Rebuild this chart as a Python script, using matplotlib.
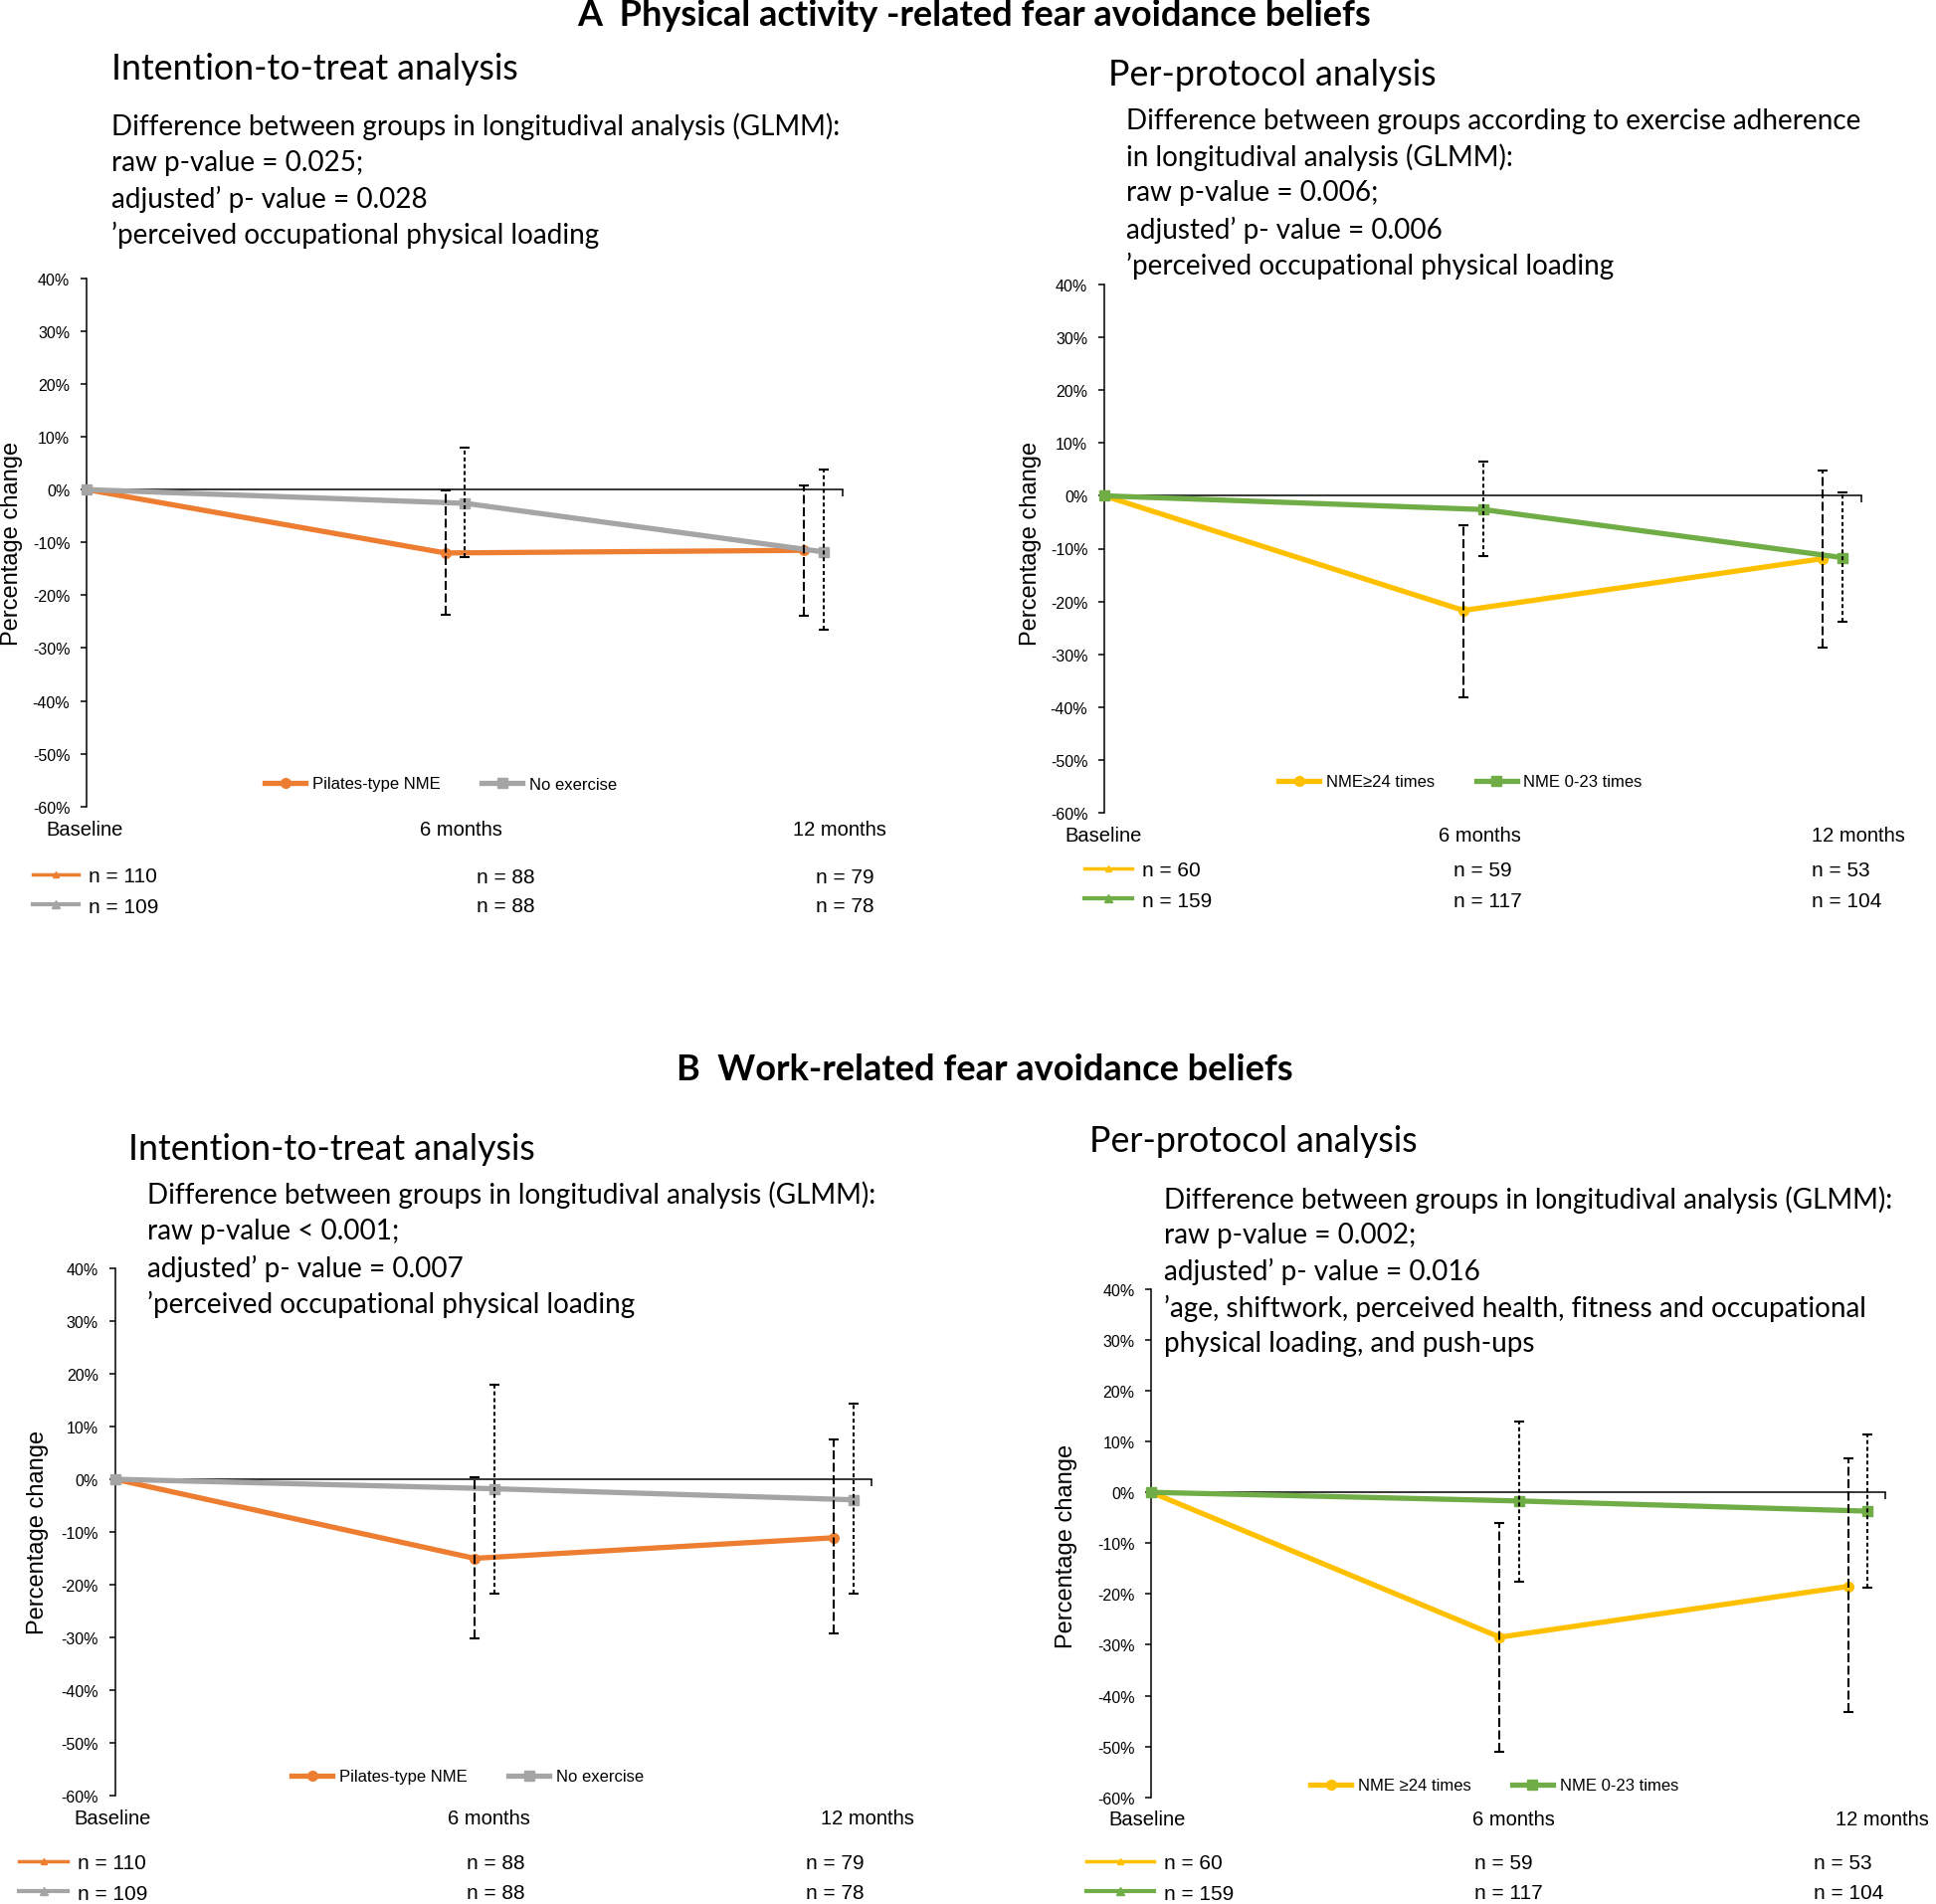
import numpy as np
import matplotlib
matplotlib.use("Agg")
import matplotlib.pyplot as plt
from matplotlib.lines import Line2D
from matplotlib.ticker import FuncFormatter

# ---------------- data ----------------
categories = ["Baseline", "6 months", "12 months"]
months = [0, 6, 12]

# Panel A, intention-to-treat
a_itt_nme = [0, -12.0, -11.5]
a_itt_nme_lo = [0, -23.7, -23.9]
a_itt_nme_hi = [0, -0.2, 0.8]
a_itt_noex = [0, -2.6, -11.8]
a_itt_noex_lo = [0, -12.8, -26.6]
a_itt_noex_hi = [0, 8.0, 3.8]
a_itt_n_nme = [110, 88, 79]
a_itt_n_noex = [109, 88, 78]

# Panel A, per-protocol
a_pp_high = [0, -21.7, -11.9]
a_pp_high_lo = [0, -38.1, -28.8]
a_pp_high_hi = [0, -5.6, 4.7]
a_pp_low = [0, -2.6, -11.7]
a_pp_low_lo = [0, -11.5, -23.8]
a_pp_low_hi = [0, 6.5, 0.7]
a_pp_n_high = [60, 59, 53]
a_pp_n_low = [159, 117, 104]

# Panel B, intention-to-treat
b_itt_nme = [0, -15.0, -11.1]
b_itt_nme_lo = [0, -30.2, -29.3]
b_itt_nme_hi = [0, 0.4, 7.5]
b_itt_noex = [0, -1.8, -3.9]
b_itt_noex_lo = [0, -21.7, -21.7]
b_itt_noex_hi = [0, 18.0, 14.4]
b_itt_n_nme = [110, 88, 79]
b_itt_n_noex = [109, 88, 78]

# Panel B, per-protocol
b_pp_high = [0, -28.5, -18.5]
b_pp_high_lo = [0, -51.0, -43.3]
b_pp_high_hi = [0, -6.0, 6.6]
b_pp_low = [0, -1.7, -3.7]
b_pp_low_lo = [0, -17.5, -18.7]
b_pp_low_hi = [0, 14.0, 11.4]
b_pp_n_high = [60, 59, 53]
b_pp_n_low = [159, 117, 104]

yticks = list(range(-60, 41, 10))

# ---------------- style ----------------
ORANGE = "#ED7D31"
GRAY = "#A5A5A5"
YELLOW = "#FFC000"
GREEN = "#70AD47"
BODY = ["Lato", "DejaVu Sans"]
SANS = ["Liberation Sans", "DejaVu Sans"]
XMAX = 12.64
DODGE = 0.33
LONG_DASH = (0, (4.3, 1.7))
SHORT_DASH = (0, (1.9, 1.4))

W, H = 1946, 1915
fig = plt.figure(figsize=(W / 100, H / 100), dpi=100)
renderer = fig.canvas.get_renderer()


def fx(px):
    return px / W


def fy(py):
    return 1 - py / H


def fit(t, width):
    w = t.get_window_extent(renderer).width
    t.set_fontsize(t.get_fontsize() * width / w)
    return t.get_fontsize()


# ---------------- titles and text ----------------
tA = fig.text(fx(979), fy(16), "A  Physical activity -related fear avoidance beliefs",
              family=BODY, fontweight="bold", fontsize=20, ha="center", va="center")
tsize = fit(tA, 798)
fig.text(fx(990), fy(1075), "B  Work-related fear avoidance beliefs",
         family=BODY, fontweight="bold", fontsize=tsize, ha="center", va="center")

s1 = fig.text(fx(112), fy(70), "Intention-to-treat analysis", family=BODY,
              fontsize=20, ha="left", va="center")
ssize = fit(s1, 411)
fig.text(fx(1114), fy(76), "Per-protocol analysis", family=BODY, fontsize=ssize,
         ha="left", va="center")
fig.text(fx(129), fy(1155), "Intention-to-treat analysis", family=BODY, fontsize=ssize,
         ha="left", va="center")
fig.text(fx(1095), fy(1148), "Per-protocol analysis", family=BODY, fontsize=ssize,
         ha="left", va="center")

body_blocks = [
    (112, [127, 164, 200, 236], [
        "Difference between groups in longitudival analysis (GLMM):",
        "raw p-value = 0.025;",
        "adjusted\u2019 p- value = 0.028",
        "\u2019perceived occupational physical loading"]),
    (1132, [122, 158, 194, 231, 267], [
        "Difference between groups according to exercise adherence",
        "in longitudival analysis (GLMM):",
        "raw p-value = 0.006;",
        "adjusted\u2019 p- value = 0.006",
        "\u2019perceived occupational physical loading"]),
    (148, [1201, 1238, 1275, 1311], [
        "Difference between groups in longitudival analysis (GLMM):",
        "raw p-value < 0.001;",
        "adjusted\u2019 p- value = 0.007",
        "\u2019perceived occupational physical loading"]),
    (1170, [1206, 1242, 1278, 1315, 1351], [
        "Difference between groups in longitudival analysis (GLMM):",
        "raw p-value = 0.002;",
        "adjusted\u2019 p- value = 0.016",
        "\u2019age, shiftwork, perceived health, fitness and occupational",
        "physical loading, and push-ups"]),
]
probe = fig.text(0, 0, body_blocks[0][2][0], family=BODY, fontsize=16)
bsize = fit(probe, 736)
probe.remove()
for x0, ys, lines in body_blocks:
    for yy, line in zip(ys, lines):
        fig.text(fx(x0), fy(yy), line, family=BODY, fontsize=bsize, ha="left", va="center")

# ---------------- panels ----------------
panels = [
    dict(box=(87, 846.6, 280.7, 811.8),
         s1=(a_itt_nme, a_itt_nme_lo, a_itt_nme_hi, ORANGE, "o", "Pilates-type NME"),
         s2=(a_itt_noex, a_itt_noex_lo, a_itt_noex_hi, GRAY, "s", "No exercise"),
         leg=(443, 789), ylab=(12, 546), cat_x=[46, 422, 797], cat_y=835,
         n_y=(882, 912), n_hx=33, n_tx=89, n_cols=[479, 820],
         n1=a_itt_n_nme, n2=a_itt_n_noex),
    dict(box=(1110, 1870.5, 287, 818),
         s1=(a_pp_high, a_pp_high_lo, a_pp_high_hi, YELLOW, "o", "NME\u226524 times"),
         s2=(a_pp_low, a_pp_low_lo, a_pp_low_hi, GREEN, "s", "NME 0-23 times"),
         leg=(1468, 787), ylab=(1036, 546), cat_x=[1070, 1446, 1821], cat_y=841,
         n_y=(876, 906), n_hx=1090, n_tx=1148, n_cols=[1461, 1821],
         n1=a_pp_n_high, n2=a_pp_n_low),
    dict(box=(115.7, 876.5, 1276, 1806),
         s1=(b_itt_nme, b_itt_nme_lo, b_itt_nme_hi, ORANGE, "o", "Pilates-type NME"),
         s2=(b_itt_noex, b_itt_noex_lo, b_itt_noex_hi, GRAY, "s", "No exercise"),
         leg=(470, 1787), ylab=(38, 1540), cat_x=[74, 450, 825], cat_y=1829,
         n_y=(1874, 1904), n_hx=19, n_tx=78, n_cols=[469, 810],
         n1=b_itt_n_nme, n2=b_itt_n_noex),
    dict(box=(1157.3, 1895, 1296.8, 1807.7),
         s1=(b_pp_high, b_pp_high_lo, b_pp_high_hi, YELLOW, "o", "NME \u226524 times"),
         s2=(b_pp_low, b_pp_low_lo, b_pp_low_hi, GREEN, "s", "NME 0-23 times"),
         leg=(1502, 1796), ylab=(1072, 1554), cat_x=[1114, 1480, 1845], cat_y=1830,
         n_y=(1874, 1904), n_hx=1092, n_tx=1170, n_cols=[1482, 1823],
         n1=b_pp_n_high, n2=b_pp_n_low),
]

m = np.array(months, dtype=float)
x_first = m
x_second = m + DODGE * (m > 0)

for p in panels:
    x0, x1, yt, yb = p["box"]
    ax = fig.add_axes([fx(x0), fy(yb), (x1 - x0) / W, (yb - yt) / H])
    ax.patch.set_visible(False)
    ax.set_xlim(0, XMAX)
    ax.set_ylim(-60, 40)
    for sp in ("top", "right"):
        ax.spines[sp].set_visible(False)
    ax.spines["bottom"].set_position(("data", 0))
    ax.spines["left"].set_linewidth(1.1)
    ax.spines["bottom"].set_linewidth(1.1)
    ax.set_xticks([XMAX])
    ax.set_xticklabels([])
    ax.tick_params(axis="x", direction="out", length=5, width=1.1)
    ax.set_yticks(yticks)
    ax.yaxis.set_major_formatter(FuncFormatter(lambda v, pos: f"{v:.0f}%"))
    ax.tick_params(axis="y", direction="out", length=4, width=1.1, pad=8, labelsize=11.5)
    for lab in ax.get_yticklabels():
        lab.set_family(SANS)

    handles = []
    for (vals, lo, hi, col, mk, lab), xs, dash in ((p["s1"], x_first, LONG_DASH),
                                                 (p["s2"], x_second, SHORT_DASH)):
        vals = np.array(vals, float)
        lo = np.array(lo, float)
        hi = np.array(hi, float)
        ln, = ax.plot(xs, vals, color=col, lw=3.8, marker=mk, ms=7, label=lab,
                      clip_on=False, zorder=3)
        handles.append(ln)
        eb = ax.errorbar(xs[1:], vals[1:], yerr=[vals[1:] - lo[1:], hi[1:] - vals[1:]],
                         fmt="none", ecolor="black", elinewidth=1.5, capsize=3.5,
                         capthick=1.5, zorder=5)
        eb.lines[2][0].set_linestyle(dash)

    fig.legend(handles=handles, labels=[h.get_label() for h in handles],
               loc="center", bbox_to_anchor=(fx(p["leg"][0]), fy(p["leg"][1])),
               ncol=2, frameon=False, prop={"family": SANS, "size": 12},
               handlelength=2.45, handletextpad=0.4, columnspacing=2.5,
               borderpad=0, borderaxespad=0)

    fig.text(fx(p["ylab"][0]), fy(p["ylab"][1]), "Percentage change", rotation=90,
             family=SANS, fontsize=17, ha="center", va="center")

    for cx, cat in zip(p["cat_x"], categories):
        fig.text(fx(cx), fy(p["cat_y"]), cat, family=SANS, fontsize=14.5,
                 ha="left", va="center")

    # n rows: keys + first column as a legend, other columns as text
    keyh = [Line2D([], [], color=p["s1"][3], lw=2.5, marker="^", ms=5),
            Line2D([], [], color=p["s2"][3], lw=3.0, marker="^", ms=6)]
    fs = 15
    fpx = fs * 100 / 72
    ymid = (p["n_y"][0] + p["n_y"][1]) / 2
    fig.legend(handles=keyh, labels=[f"n = {p['n1'][0]}", f"n = {p['n2'][0]}"],
               loc="center left", bbox_to_anchor=(fx(p["n_hx"]), fy(ymid)),
               frameon=False, prop={"family": SANS, "size": fs},
               handlelength=(p["n_tx"] - p["n_hx"] - 10) / fpx,
               handletextpad=10 / fpx, labelspacing=0.55, borderpad=0, borderaxespad=0)
    for j, cx in enumerate(p["n_cols"]):
        fig.text(fx(cx), fy(p["n_y"][0]), f"n = {p['n1'][j + 1]}", family=SANS,
                 fontsize=fs, ha="left", va="center")
        fig.text(fx(cx), fy(p["n_y"][1]), f"n = {p['n2'][j + 1]}", family=SANS,
                 fontsize=fs, ha="left", va="center")

fig.savefig("out.png", dpi=100)
